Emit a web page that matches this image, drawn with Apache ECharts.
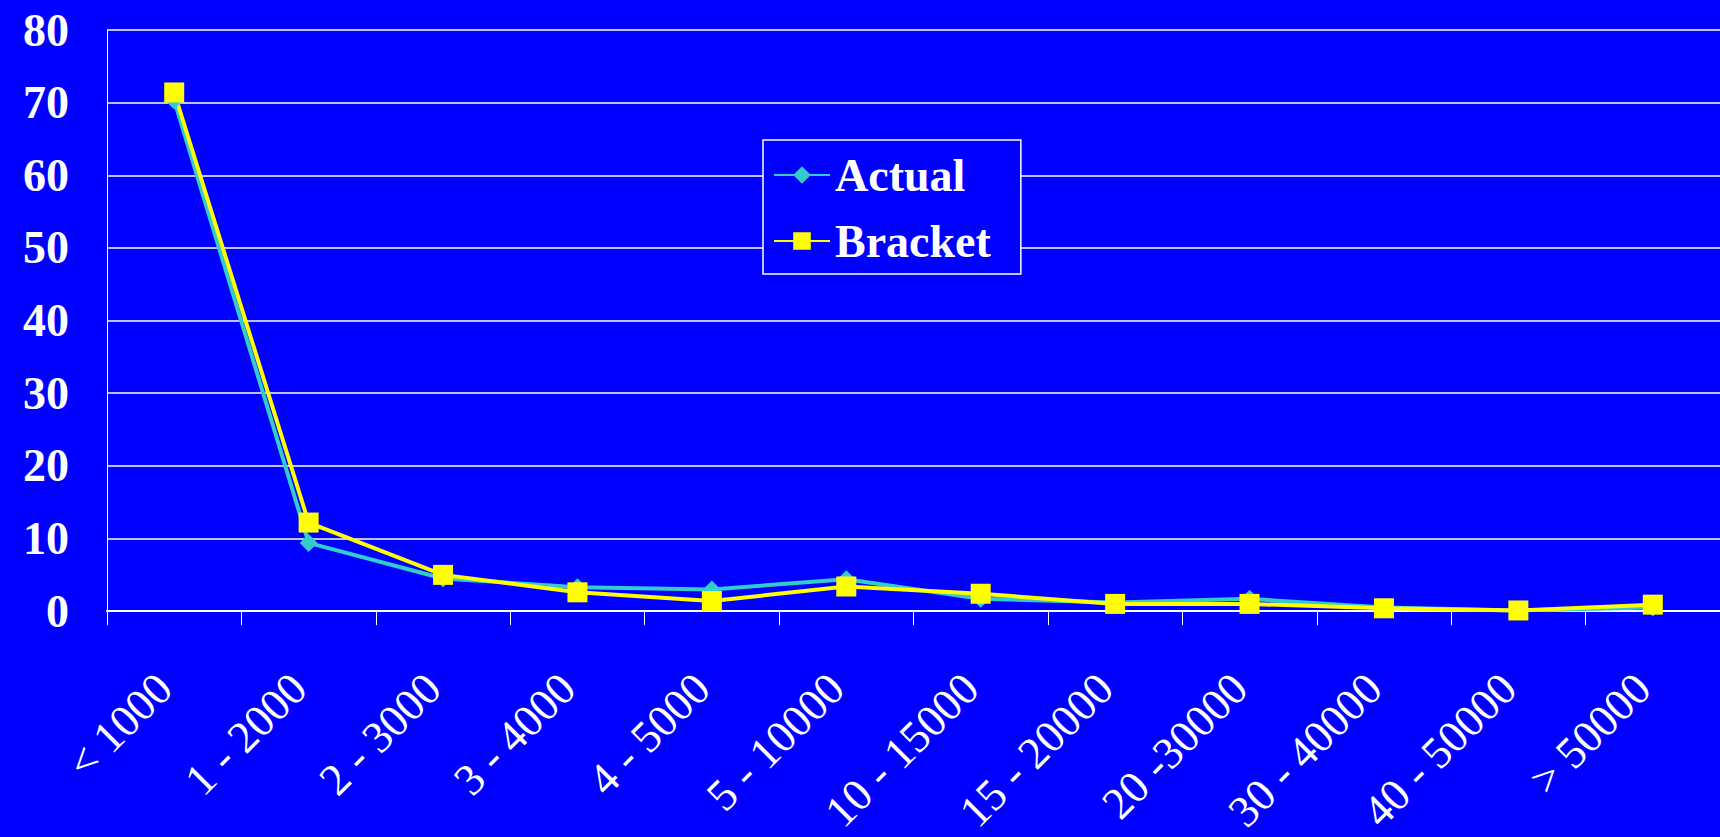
<!DOCTYPE html>
<html><head><meta charset="utf-8">
<script src="https://cdn.jsdelivr.net/npm/echarts@6/dist/echarts.min.js"></script>
<style>html,body{margin:0;padding:0;background:#0000ff}#chart-container{width:1720px;height:837px}</style>
</head><body><div id="chart-container"></div>
<script>
var categories = ['< 1000', '1 - 2000', '2 - 3000', '3 - 4000', '4 - 5000', '5 - 10000', '10 - 15000', '15 - 20000', '20 -30000', '30 - 40000', '40 - 50000', '> 50000'];
var actual = [70.3, 9.4, 4.5, 3.3, 3.0, 4.4, 1.7, 1.2, 1.7, 0.5, 0.1, 0.5];
var bracket = [71.4, 12.2, 5.0, 2.6, 1.4, 3.4, 2.4, 1.0, 1.0, 0.4, 0.1, 0.9];
var yTicks = [0, 10, 20, 30, 40, 50, 60, 70, 80];

var dom = document.getElementById('chart-container');
var myChart = echarts.init(dom, null, { renderer: 'svg' });
var font = 'Liberation Serif';

var option = {
  backgroundColor: '#0000ff',
  animation: false,
  grid: { left: 107, right: 0, top: 30, bottom: 224 },
  legend: {
    left: 763, top: 140, orient: 'vertical',
    backgroundColor: '#0000ff', borderColor: '#ffffff', borderWidth: 1.5,
    padding: [12, 30, 10, 10], itemGap: 20, itemWidth: 56, itemHeight: 22,
    textStyle: { color: '#fff', fontFamily: font, fontWeight: 'bold', fontSize: 46 },
    data: ['Actual', 'Bracket']
  },
  xAxis: {
    type: 'category', data: categories, boundaryGap: true,
    axisLine: { lineStyle: { color: '#fff', width: 2 } },
    axisTick: { show: true, length: 14, lineStyle: { color: '#fff' } },
    axisLabel: { color: '#fff', fontFamily: font, fontSize: 45, rotate: 45, margin: 60, padding: [0, 14, 0, 0] }
  },
  yAxis: {
    type: 'value', min: 0, max: 80, interval: 10,
    axisLine: { show: true, lineStyle: { color: '#fff' } },
    axisTick: { show: false },
    splitLine: { lineStyle: { color: '#fff', width: 1.5 } },
    axisLabel: { color: '#fff', fontFamily: font, fontWeight: 'bold', fontSize: 46, margin: 38,
      formatter: function (v) { return yTicks.indexOf(v) >= 0 ? String(v) : ''; } }
  },
  series: [
    { name: 'Actual', type: 'line', data: actual, symbol: 'diamond', symbolSize: 18,
      lineStyle: { color: '#33cccc', width: 4 }, itemStyle: { color: '#33cccc' } },
    { name: 'Bracket', type: 'line', data: bracket, symbol: 'rect', symbolSize: 20,
      lineStyle: { color: '#ffff00', width: 4 }, itemStyle: { color: '#ffff00' } }
  ]
};
myChart.setOption(option);
window.addEventListener('resize', myChart.resize);
</script></body></html>
